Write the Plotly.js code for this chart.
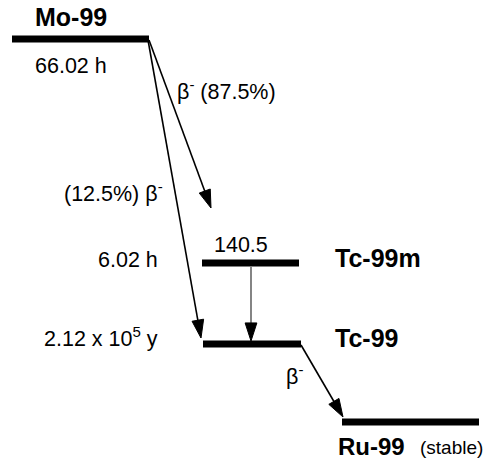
<!DOCTYPE html>
<html><head><meta charset="utf-8">
<script src="https://cdn.plot.ly/plotly-3.0.1.min.js"></script>
<style>html,body{margin:0;padding:0;background:#fff}</style>
</head><body>
<div id="chart" style="width:491px;height:461px"></div>
<script>
// Energy levels (diagram units: x across, y down)
const levelNames = ['Mo-99', 'Tc-99m', 'Tc-99', 'Ru-99'];
const levelLabels = ['<b>Mo-99</b>', '<b>Tc-99m</b>', '<b>Tc-99</b>', '<b>Ru-99</b>'];
const levelX0 = [12, 202, 203, 342];
const levelX1 = [149, 299, 301, 479];
const levelY = [39, 263, 344, 422];
const halfLives = ['66.02 h', '6.02 h', '2.12 x 10<sup>5</sup> y', ''];
const energyLabel = '140.5';

// Decays: from level, to level, branch label
const decayFrom = [0, 0, 1, 2];
const decayTo = [1, 2, 2, 3];
const decayStartX = [149, 148, 251, 301];
const decayEndX = [211, 201, 251, 343];
const decayStartY = [40, 40, 267, 345];
const decayEndY = [208, 338, 341, 417];
const decayLabels = ['β<sup>-</sup> (87.5%)', '(12.5%) β<sup>-</sup>', '', 'β<sup>-</sup>'];

const FONT = 'Liberation Sans, Arial, Helvetica, sans-serif';
const traces = [];
for (let i = 0; i < decayFrom.length; i++) {
  traces.push({
    type: 'scatter', mode: 'lines+markers',
    x: [decayStartX[i], decayEndX[i]],
    y: [decayStartY[i], decayEndY[i]],
    line: {color: i === 2 ? '#333' : '#000', width: i === 2 ? 1.2 : 1.6},
    marker: {symbol: 'arrow', size: [0, 19], angleref: 'previous', color: '#000', opacity: 1,
             line: {color: '#000', width: 1}},
    opacity: 1,
    hoverinfo: 'skip', showlegend: false
  });
}

const shapes = levelNames.map((n, i) => ({
  type: 'line', xref: 'x', yref: 'y',
  x0: levelX0[i], x1: levelX1[i], y0: levelY[i], y1: levelY[i],
  line: {color: '#000', width: 7}
}));

const ann = [];
function txt(x, y, text, xa, size, extra) {
  ann.push(Object.assign({x: x, y: y, xref: 'x', yref: 'y', text: text, showarrow: false,
    borderpad: 0, xanchor: xa, yanchor: 'middle', font: {family: FONT, size: size, color: '#000'}}, extra || {}));
}
txt(71, 17, levelLabels[0], 'center', 25);
txt(334, 258, levelLabels[1], 'left', 25);
txt(334, 338, levelLabels[2], 'left', 25);
txt(337, 446, levelLabels[3], 'left', 24);
txt(419, 447, '(stable)', 'left', 19);
txt(71, 66, halfLives[0], 'center', 21.5);
txt(159, 260, halfLives[1], 'right', 21.5);
txt(159, 337, halfLives[2], 'right', 21.5);
txt(241, 245, energyLabel, 'center', 21.5);
txt(176, 90, decayLabels[0], 'left', 21.5);
txt(164, 192, decayLabels[1], 'right', 21.5);
txt(285, 375, decayLabels[3], 'left', 21.5);

const layout = {
  width: 491, height: 461,
  margin: {l: 0, r: 0, t: 0, b: 0},
  paper_bgcolor: '#fff', plot_bgcolor: '#fff',
  xaxis: {range: [0, 491], visible: false, fixedrange: true},
  yaxis: {range: [461, 0], visible: false, fixedrange: true},
  shapes: shapes, annotations: ann, showlegend: false
};
Plotly.newPlot('chart', traces, layout, {staticPlot: true, displayModeBar: false});
</script>
</body></html>
